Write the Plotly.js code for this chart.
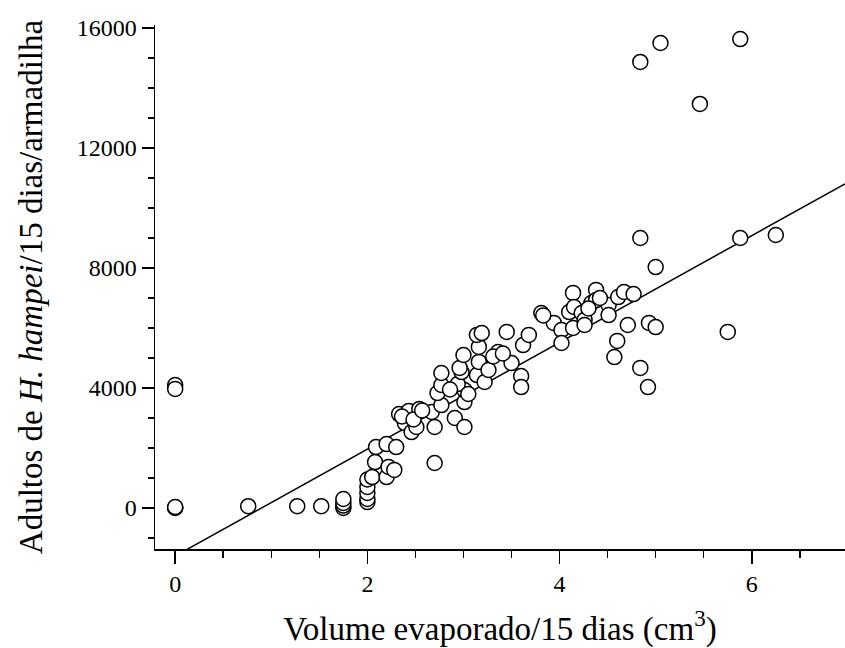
<!DOCTYPE html>
<html>
<head>
<meta charset="utf-8">
<script src="https://cdn.plot.ly/plotly-3.0.1.min.js"></script>
<style>html,body{margin:0;padding:0;background:#fff;}#chart{width:845px;height:648px;}</style>
</head>
<body>
<div id="chart"></div>
<script>
// Volume evaporado/15 dias (cm3)
const volume = [
  0, 0, 0, 0, 0,
  0.76, 1.27, 1.52, 1.75, 1.75, 1.75, 1.75,
  2.0, 2.0, 2.0, 2.0, 2.0, 2.05, 2.2, 2.08, 2.22, 2.28, 2.09, 2.2, 2.3, 2.7,
  2.33, 2.43, 2.54, 2.39, 2.46, 2.51, 2.67, 2.7, 2.77, 2.73, 2.77, 2.77,
  2.91, 3.01, 3.01, 3.01, 2.94, 2.98, 2.96, 3.0, 3.14, 3.22, 3.16, 3.16,
  3.14, 3.19, 3.26, 3.36, 3.45, 3.5, 3.6, 3.6, 3.62, 3.68, 3.81, 3.94,
  4.02, 4.02, 4.1, 4.14, 4.15, 4.14, 4.23, 4.26, 4.26, 4.33, 4.38, 4.38,
  4.51, 4.51, 4.61, 4.67, 4.77, 4.71, 4.6, 4.57, 4.84, 4.92, 4.93, 5.0,
  5.0, 4.84, 5.88, 6.25, 5.75, 4.84, 5.05, 5.88, 5.46,
  2.36, 2.48, 2.57, 2.86, 3.05, 3.31, 3.41, 3.83, 4.3, 4.42
];
// Adultos de H. hampei/15 dias/armadilha
const adultos = [
  4100, 3970, 0, 15, 30,
  60, 60, 60, 0, 80, 170, 300,
  200, 300, 500, 700, 950, 1030, 1030, 1530, 1370, 1270, 2030, 2130, 2030, 1500,
  3130, 3230, 3300, 2830, 2530, 2700, 3200, 2700, 3430, 3830, 4100, 4500,
  3000, 2700, 3530, 3930, 4130, 4530, 4670, 5100, 4430, 4200, 4870, 5370,
  5770, 5830, 4600, 5200, 5870, 4830, 4400, 4030, 5430, 5770, 6500, 6170,
  5930, 5500, 6530, 7170, 6700, 6000, 6500, 6270, 6100, 6830, 7270, 6930,
  6770, 6430, 7030, 7200, 7130, 6100, 5570, 5030, 4670, 4030, 6170, 6030,
  8030, 9000, 9000, 9100, 5870, 14870, 15500, 15630, 13470,
  3050, 2950, 3250, 3950, 3800, 5050, 5150, 6420, 6650, 7000
];
// Regression line coefficients
const fitIntercept = -1600;
const fitSlope = 1780;
const xRange = [-0.21, 6.97];
const yRange = [-1367, 16100];
const xTicks = [0, 2, 4, 6];
const yTicks = [0, 4000, 8000, 12000, 16000];

const lineX = xRange.slice();
const lineY = lineX.map(v => fitIntercept + fitSlope * v);

const serif = "Liberation Serif, Times New Roman, serif";

const traces = [
  {
    x: lineX, y: lineY, type: 'scatter', mode: 'lines',
    line: {color: '#000', width: 1.5}, hoverinfo: 'skip', showlegend: false
  },
  {
    x: volume, y: adultos, type: 'scatter', mode: 'markers',
    marker: {symbol: 'circle', size: 15, color: '#fff', line: {color: '#000', width: 1.5}},
    showlegend: false
  }
];

const layout = {
  width: 845, height: 648,
  margin: {l: 155, r: 0, t: 25, b: 99},
  paper_bgcolor: '#fff', plot_bgcolor: '#fff',
  font: {family: serif, color: '#000', size: 24},
  xaxis: {
    range: xRange, tickvals: xTicks, ticktext: xTicks.map(String),
    showgrid: false, zeroline: false, showline: true, linecolor: '#000', linewidth: 1.5,
    ticks: 'outside', ticklen: 13, tickwidth: 1.5, tickcolor: '#000',
    minor: {ticks: 'outside', ticklen: 7, tickwidth: 1.5, tickcolor: '#000', dtick: 0.5, tick0: 0, showgrid: false},
    tickfont: {family: serif, size: 24, color: '#000'},
    title: {text: 'Volume evaporado/15 dias (cm<sup>3</sup>)', font: {family: serif, size: 33, color: '#000'}, standoff: 20}
  },
  yaxis: {
    range: yRange, tickvals: yTicks, ticktext: yTicks.map(String),
    showgrid: false, zeroline: false, showline: true, linecolor: '#000', linewidth: 1.5,
    ticks: 'outside', ticklen: 12, tickwidth: 1.5, tickcolor: '#000',
    minor: {ticks: 'outside', ticklen: 6, tickwidth: 1.5, tickcolor: '#000', dtick: 1000, tick0: 0, showgrid: false},
    tickfont: {family: serif, size: 24, color: '#000'},
    title: {text: 'Adultos de <i>H. hampei</i>/15 dias/armadilha', font: {family: serif, size: 33, color: '#000'}, standoff: 24}
  }
};

Plotly.newPlot('chart', traces, layout, {staticPlot: true, displayModeBar: false});
</script>
</body>
</html>
